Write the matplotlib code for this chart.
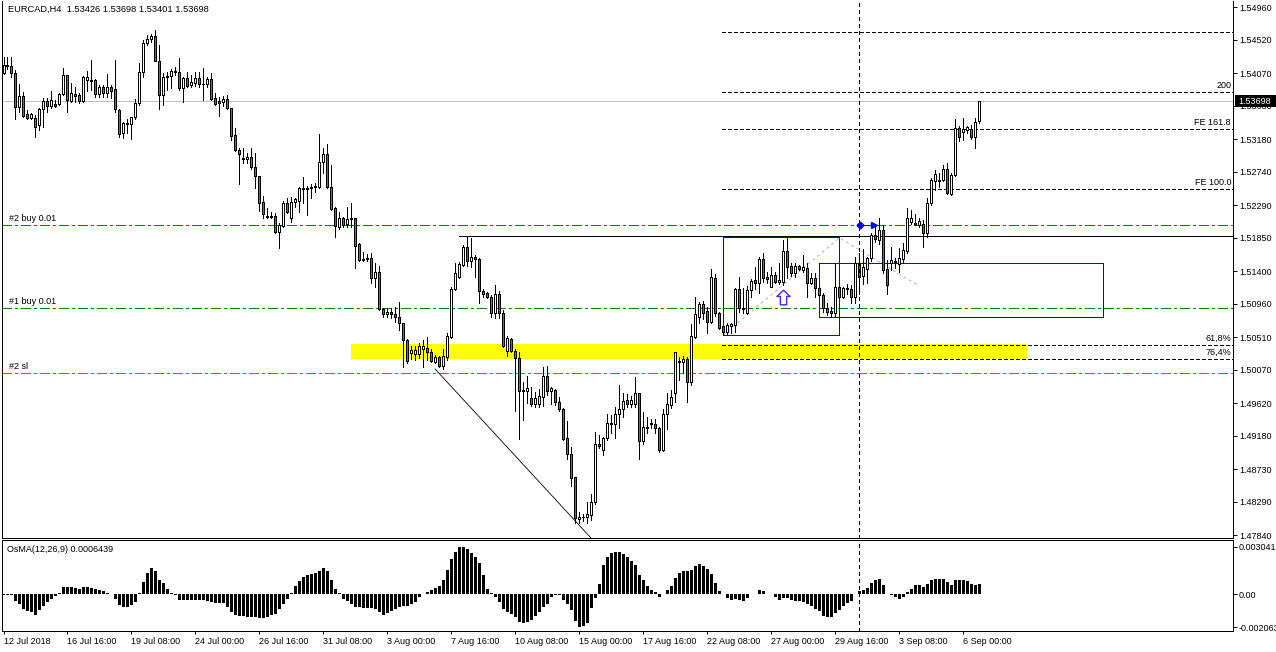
import matplotlib
matplotlib.use("Agg")
import matplotlib.pyplot as plt
import numpy as np
from matplotlib.path import Path
from matplotlib.patches import Rectangle

plt.rcParams['font.family'] = ['Liberation Sans', 'DejaVu Sans']
plt.rcParams['lines.scale_dashes'] = False
plt.rcParams['lines.antialiased'] = False
plt.rcParams['patch.antialiased'] = False

# ---------------- data (EURCAD H4, bars from 12 Jul 2018 00:00) ----------------
opens = [
 1.5407,1.5418,1.5417,1.5407,1.5362,1.5376,1.5352,1.5346,1.5346,1.5337,
 1.5359,1.5370,1.5363,1.5366,1.5366,1.5379,1.5405,1.5370,1.5379,1.5378,
 1.5370,1.5398,1.5398,1.5398,1.5379,1.5389,1.5380,1.5389,1.5386,1.5358,
 1.5326,1.5340,1.5339,1.5348,1.5367,1.5409,1.5448,1.5453,1.5457,1.5424,
 1.5378,1.5402,1.5403,1.5410,1.5409,1.5387,1.5401,1.5391,1.5394,1.5401,
 1.5393,1.5392,1.5399,1.5374,1.5370,1.5368,1.5372,1.5360,1.5324,1.5303,
 1.5293,1.5291,1.5294,1.5281,1.5268,1.5233,1.5214,1.5213,1.5214,1.5193,
 1.5201,1.5232,1.5212,1.5233,1.5235,1.5252,1.5251,1.5252,1.5254,1.5254,
 1.5287,1.5298,1.5254,1.5225,1.5200,1.5212,1.5204,1.5210,1.5212,1.5177,
 1.5156,1.5156,1.5158,1.5131,1.5139,1.5089,1.5082,1.5085,1.5082,1.5078,
 1.5070,1.5047,1.5029,1.5028,1.5028,1.5035,1.5036,1.5031,1.5017,1.5024,
 1.5012,1.5024,1.5051,1.5116,1.5132,1.5148,1.5173,1.5154,1.5159,1.5156,
 1.5113,1.5110,1.5105,1.5083,1.5109,1.5083,1.5032,1.5048,1.5032,1.5023,
 1.4980,1.4978,1.4969,1.4961,1.4961,1.4970,1.4998,1.4978,1.4980,1.4963,
 1.4954,1.4915,1.4894,1.4862,1.4805,1.4809,1.4808,1.4811,1.4828,1.4907,
 1.4899,1.4915,1.4935,1.4934,1.4947,1.4954,1.4966,1.4961,1.4961,1.4975,
 1.4911,1.4930,1.4934,1.4934,1.4928,1.4899,1.4947,1.4959,1.4975,1.5019,
 1.5017,1.5021,1.4990,1.5051,1.5078,1.5096,1.5086,1.5071,1.5131,1.5083,
 1.5066,1.5058,1.5066,1.5067,1.5116,1.5090,1.5083,1.5115,1.5128,1.5124,
 1.5156,1.5132,1.5119,1.5135,1.5125,1.5125,1.5167,1.5147,1.5137,1.5147,
 1.5142,1.5144,1.5124,1.5131,1.5117,1.5108,1.5090,1.5086,1.5083,1.5119,
 1.5105,1.5117,1.5116,1.5105,1.5151,1.5133,1.5143,1.5158,1.5189,1.5182,
 1.5196,1.5143,1.5151,1.5154,1.5150,1.5156,1.5167,1.5206,1.5205,1.5202,
 1.5204,1.5191,1.5232,1.5262,1.5263,1.5263,1.5278,1.5244,1.5270,1.5333,
 1.5328,1.5331,1.5332,1.5321,1.53426]
highs = [
 1.5429,1.5429,1.5429,1.5412,1.5393,1.5382,1.5357,1.5353,1.5351,1.5360,
 1.5374,1.5374,1.5383,1.5371,1.5380,1.5414,1.5405,1.5394,1.5389,1.5380,
 1.5403,1.5410,1.5425,1.5399,1.5391,1.5391,1.5406,1.5391,1.5425,1.5359,
 1.5341,1.5345,1.5348,1.5372,1.5421,1.5452,1.5459,1.5460,1.5466,1.5445,
 1.5407,1.5409,1.5413,1.5416,1.5428,1.5402,1.5409,1.5405,1.5409,1.5409,
 1.5414,1.5402,1.5407,1.5380,1.5375,1.5376,1.5378,1.5360,1.5333,1.5306,
 1.5306,1.5299,1.5306,1.5299,1.5268,1.5241,1.5225,1.5220,1.5218,1.5205,
 1.5235,1.5239,1.5240,1.5239,1.5254,1.5267,1.5255,1.5258,1.5259,1.5325,
 1.5306,1.5312,1.5283,1.5227,1.5220,1.5213,1.5227,1.5232,1.5212,1.5178,
 1.5166,1.5163,1.5164,1.5151,1.5147,1.5090,1.5090,1.5090,1.5092,1.5098,
 1.5070,1.5048,1.5039,1.5039,1.5043,1.5047,1.5051,1.5035,1.5027,1.5025,
 1.5035,1.5056,1.5119,1.5151,1.5152,1.5175,1.5187,1.5185,1.5162,1.5158,
 1.5116,1.5112,1.5108,1.5121,1.5113,1.5088,1.5052,1.5050,1.5035,1.5031,
 1.4990,1.4998,1.4984,1.4977,1.4981,1.5011,1.5012,1.4984,1.4981,1.4970,
 1.4955,1.4938,1.4903,1.4862,1.4815,1.4813,1.4828,1.4840,1.4923,1.4919,
 1.4916,1.4947,1.4946,1.4957,1.4986,1.4975,1.4974,1.4971,1.4997,1.4975,
 1.4950,1.4943,1.4940,1.4940,1.4930,1.4954,1.4975,1.4980,1.5031,1.5024,
 1.5025,1.5024,1.5069,1.5105,1.5098,1.5100,1.5092,1.5143,1.5136,1.5085,
 1.5067,1.5070,1.5070,1.5117,1.5132,1.5117,1.5120,1.5129,1.5146,1.5159,
 1.5164,1.5139,1.5146,1.5139,1.5151,1.5182,1.5186,1.5151,1.5151,1.5148,
 1.5162,1.5151,1.5137,1.5137,1.5120,1.5110,1.5097,1.5092,1.5151,1.5119,
 1.5119,1.5123,1.5121,1.5159,1.5164,1.5170,1.5159,1.5191,1.5202,1.5212,
 1.5202,1.5155,1.5173,1.5158,1.5171,1.5178,1.5225,1.5223,1.5217,1.5212,
 1.5209,1.5239,1.5266,1.5277,1.5272,1.5283,1.5286,1.5272,1.5345,1.5336,
 1.5347,1.5336,1.5337,1.5347,1.53698]
lows = [
 1.5406,1.5413,1.5402,1.5345,1.5355,1.5348,1.5345,1.5345,1.5321,1.5331,
 1.5335,1.5355,1.5360,1.5362,1.5364,1.5378,1.5355,1.5368,1.5368,1.5367,
 1.5368,1.5383,1.5384,1.5375,1.5375,1.5375,1.5375,1.5374,1.5355,1.5321,
 1.5320,1.5326,1.5318,1.5345,1.5364,1.5402,1.5445,1.5449,1.5423,1.5359,
 1.5364,1.5384,1.5387,1.5405,1.5384,1.5368,1.5389,1.5389,1.5390,1.5389,
 1.5371,1.5389,1.5371,1.5364,1.5349,1.5363,1.5359,1.5317,1.5302,1.5258,
 1.5286,1.5286,1.5278,1.5252,1.5221,1.5212,1.5212,1.5212,1.5191,1.5171,
 1.5200,1.5218,1.5206,1.5227,1.5220,1.5232,1.5216,1.5239,1.5247,1.5252,
 1.5272,1.5252,1.5222,1.5186,1.5197,1.5200,1.5200,1.5200,1.5144,1.5154,
 1.5154,1.5154,1.5124,1.5119,1.5088,1.5078,1.5078,1.5077,1.5071,1.5061,
 1.5011,1.5016,1.5021,1.5020,1.5023,1.5011,1.5020,1.5017,1.5016,1.5011,
 1.5008,1.5020,1.5050,1.5115,1.5131,1.5147,1.5147,1.5146,1.5132,1.5097,
 1.5105,1.5104,1.5078,1.5077,1.5077,1.5038,1.5025,1.5031,1.4951,1.4913,
 1.4939,1.4962,1.4958,1.4957,1.4957,1.4958,1.4973,1.4961,1.4959,1.4951,
 1.4912,1.4886,1.4850,1.4800,1.4800,1.4803,1.4800,1.4804,1.4826,1.4901,
 1.4892,1.4912,1.4921,1.4915,1.4928,1.4943,1.4957,1.4957,1.4957,1.4886,
 1.4907,1.4921,1.4928,1.4921,1.4896,1.4897,1.4927,1.4955,1.4963,1.4993,
 1.5002,1.4963,1.4986,1.5050,1.5070,1.5075,1.5056,1.5070,1.5079,1.5062,
 1.5054,1.5055,1.5056,1.5058,1.5085,1.5083,1.5082,1.5105,1.5116,1.5110,
 1.5125,1.5124,1.5118,1.5124,1.5123,1.5121,1.5131,1.5133,1.5132,1.5142,
 1.5139,1.5105,1.5123,1.5105,1.5105,1.5085,1.5081,1.5078,1.5078,1.5104,
 1.5104,1.5109,1.5097,1.5097,1.5109,1.5123,1.5124,1.5154,1.5179,1.5177,
 1.5137,1.5109,1.5142,1.5144,1.5139,1.5151,1.5164,1.5204,1.5202,1.5200,
 1.5173,1.5186,1.5229,1.5250,1.5254,1.5262,1.5244,1.5243,1.5268,1.5316,
 1.5317,1.5326,1.5318,1.5306,1.53401]
closes = [
 1.5418,1.5417,1.5407,1.5362,1.5376,1.5349,1.5346,1.5352,1.5335,1.5359,
 1.5370,1.5363,1.5371,1.5363,1.5379,1.5405,1.5371,1.5380,1.5376,1.5370,
 1.5402,1.5402,1.5397,1.5379,1.5389,1.5380,1.5389,1.5383,1.5359,1.5325,
 1.5340,1.5339,1.5348,1.5367,1.5409,1.5448,1.5453,1.5457,1.5424,1.5378,
 1.5402,1.5403,1.5410,1.5409,1.5387,1.5401,1.5390,1.5395,1.5401,1.5393,
 1.5392,1.5399,1.5372,1.5366,1.5367,1.5372,1.5360,1.5322,1.5303,1.5298,
 1.5291,1.5294,1.5281,1.5268,1.5232,1.5217,1.5213,1.5214,1.5193,1.5202,
 1.5232,1.5220,1.5233,1.5237,1.5252,1.5251,1.5252,1.5254,1.5255,1.5287,
 1.5298,1.5254,1.5224,1.5201,1.5212,1.5202,1.5210,1.5212,1.5174,1.5155,
 1.5155,1.5158,1.5131,1.5139,1.5089,1.5082,1.5085,1.5082,1.5078,1.5070,
 1.5047,1.5019,1.5034,1.5034,1.5039,1.5039,1.5031,1.5019,1.5024,1.5012,
 1.5025,1.5052,1.5116,1.5137,1.5150,1.5173,1.5154,1.5159,1.5156,1.5113,
 1.5109,1.5105,1.5083,1.5109,1.5083,1.5039,1.5050,1.5032,1.5023,1.4978,
 1.4978,1.4982,1.4961,1.4969,1.4971,1.4998,1.4978,1.4982,1.4963,1.4954,
 1.4913,1.4894,1.4861,1.4807,1.4809,1.4808,1.4812,1.4828,1.4907,1.4904,
 1.4915,1.4935,1.4934,1.4947,1.4954,1.4965,1.4961,1.4966,1.4975,1.4911,
 1.4930,1.4928,1.4935,1.4928,1.4899,1.4947,1.4961,1.4970,1.5031,1.5017,
 1.5021,1.4990,1.5052,1.5082,1.5096,1.5083,1.5071,1.5132,1.5083,1.5063,
 1.5058,1.5067,1.5069,1.5116,1.5090,1.5089,1.5115,1.5127,1.5124,1.5156,
 1.5131,1.5129,1.5135,1.5125,1.5128,1.5167,1.5146,1.5137,1.5147,1.5143,
 1.5146,1.5124,1.5131,1.5117,1.5108,1.5090,1.5085,1.5083,1.5119,1.5105,
 1.5117,1.5116,1.5105,1.5151,1.5132,1.5146,1.5158,1.5189,1.5183,1.5196,
 1.5142,1.5121,1.5155,1.5152,1.5158,1.5169,1.5212,1.5212,1.5204,1.5208,
 1.5191,1.5232,1.5263,1.5271,1.5262,1.5278,1.5245,1.5270,1.5333,1.5321,
 1.5332,1.5335,1.5321,1.5341,1.53698]
osma = [
 -0.00003,-0.00003,-0.00005,-0.00039,-0.00060,-0.00091,-0.00103,-0.00111,-0.00128,-0.00101,
 -0.00070,-0.00045,-0.00029,-0.00008,0.00012,0.00049,0.00045,0.00045,0.00043,0.00037,
 0.00049,0.00049,0.00043,0.00033,0.00029,0.00021,0.00012,0.00000,-0.00030,-0.00066,
 -0.00080,-0.00080,-0.00066,-0.00045,0.00012,0.00078,0.00136,0.00171,0.00152,0.00095,
 0.00070,0.00037,0.00012,-0.00004,-0.00033,-0.00035,-0.00035,-0.00035,-0.00035,-0.00033,
 -0.00035,-0.00039,-0.00049,-0.00054,-0.00054,-0.00054,-0.00080,-0.00111,-0.00128,-0.00136,
 -0.00138,-0.00142,-0.00142,-0.00144,-0.00148,-0.00148,-0.00142,-0.00132,-0.00122,-0.00091,
 -0.00060,-0.00029,0.00012,0.00054,0.00084,0.00111,0.00126,0.00130,0.00136,0.00146,
 0.00171,0.00146,0.00091,0.00033,0.00008,-0.00029,-0.00039,-0.00060,-0.00080,-0.00082,
 -0.00084,-0.00087,-0.00087,-0.00095,-0.00111,-0.00128,-0.00115,-0.00103,-0.00091,-0.00082,
 -0.00074,-0.00074,-0.00060,-0.00045,-0.00019,0.00000,0.00016,0.00027,0.00041,0.00054,
 0.00089,0.00157,0.00222,0.00270,0.00304,0.00304,0.00290,0.00264,0.00239,0.00198,
 0.00126,0.00033,0.00008,-0.00019,-0.00045,-0.00091,-0.00111,-0.00122,-0.00142,-0.00173,
 -0.00179,-0.00173,-0.00163,-0.00136,-0.00111,-0.00080,-0.00060,-0.00019,-0.00004,-0.00004,
 -0.00033,-0.00060,-0.00101,-0.00165,-0.00206,-0.00200,-0.00178,-0.00087,-0.00020,0.00064,
 0.00187,0.00235,0.00260,0.00268,0.00268,0.00255,0.00235,0.00214,0.00187,0.00126,
 0.00089,0.00052,0.00031,0.00014,-0.00014,0.00006,0.00027,0.00052,0.00103,0.00134,
 0.00150,0.00146,0.00157,0.00181,0.00192,0.00183,0.00161,0.00130,0.00072,0.00021,
 0.00002,-0.00025,-0.00035,-0.00031,-0.00035,-0.00039,-0.00021,0.00000,0.00006,0.00031,
 0.00023,0.00006,0.00000,-0.00014,-0.00035,-0.00025,-0.00021,-0.00035,-0.00039,-0.00043,
 -0.00045,-0.00060,-0.00072,-0.00093,-0.00107,-0.00134,-0.00142,-0.00142,-0.00117,-0.00097,
 -0.00072,-0.00056,-0.00039,0.00003,0.00021,0.00031,0.00043,0.00072,0.00089,0.00099,
 0.00062,0.00006,-0.00004,-0.00014,-0.00031,-0.00014,0.00016,0.00037,0.00058,0.00058,
 0.00047,0.00068,0.00089,0.00099,0.00099,0.00099,0.00078,0.00062,0.00089,0.00093,
 0.00093,0.00084,0.00064,0.00058,0.0006439]

time_labels = ["12 Jul 2018", "16 Jul 16:00", "19 Jul 08:00", "24 Jul 00:00", "26 Jul 16:00",
               "31 Jul 08:00", "3 Aug 00:00", "7 Aug 16:00", "10 Aug 08:00", "15 Aug 00:00",
               "17 Aug 16:00", "22 Aug 08:00", "27 Aug 00:00", "29 Aug 16:00", "3 Sep 08:00",
               "6 Sep 00:00"]
price_ticks = [1.54960, 1.54520, 1.54070, 1.53630, 1.53180, 1.52740, 1.52290, 1.51850,
               1.51400, 1.50960, 1.50510, 1.50070, 1.49620, 1.49180, 1.48730, 1.48290, 1.47840]
osma_ticks = [0.003041, 0.0, -0.002063]
osma_tick_labels = ["0.0030418", "0.00", "-0.002063"]

# chart objects (bar index / price anchors)
fe_levels = [1.52508, 1.53318, 1.53817, 1.54622]
fe_labels = ["FE 100.0", "FE 161.8", "200", ""]
fib_levels = [1.50404, 1.50211]
fib_labels = ["61,8%", "76,4%"]
orders = [("#2 buy 0.01", 1.52019, "green"), ("#1 buy 0.01", 1.50899, "green"), ("#2 sl", 1.50026, "sl")]
ray_price, ray_start = 1.51874, 114
yellow_zone = (86.9, 255.9, 1.50215, 1.50418)
box1 = (179.9, 208.9, 1.50539, 1.51865)
box2 = (203.9, 274.9, 1.50782, 1.51510)
fe_pts_x = [180, 209, 228.6]
fe_pts_y = [1.5054, 1.5185, 1.5121]
trend_x = [107.9, 152.0]
trend_y = [1.5008, 1.4750]
vline_bar = 213.9
arrow_bar, arrow_price = 194.9, 1.51052
trade_x = [214.1, 217.6]
trade_y = 1.5202

# ---------------- figure ----------------
W, H = 1276, 652
fig = plt.figure(figsize=(W / 100, H / 100), dpi=100)
fig.patch.set_facecolor("white")
PX = 0.72  # one pixel in points

ax = fig.add_axes([2 / W, 1 - 538 / H, 1231 / W, 537 / H])
ax2 = fig.add_axes([2 / W, 1 - 631 / H, 1231 / W, 91 / H])

O = np.array(opens); Hh = np.array(highs); L = np.array(lows); C = np.array(closes)
x = np.arange(len(C))
xlim = (-0.375, 307.375)

# candles
ax.vlines(x, L, Hh, color="black", lw=1.0 * PX, zorder=5, antialiased=False)
up = C >= O
bottom = np.minimum(O, C)
height = np.abs(C - O)
ax.bar(x, height, bottom=bottom, width=0.5,
       color=np.where(up, "white", "#6e6e6e"), edgecolor="black", linewidth=1.0 * PX, zorder=6)

# current price line
ax.axhline(C[-1], color="#c0c0c0", lw=1.0 * PX, zorder=2)

# yellow zone
ax.add_patch(Rectangle((yellow_zone[0], yellow_zone[2]), yellow_zone[1] - yellow_zone[0],
                       yellow_zone[3] - yellow_zone[2], facecolor="#ffff00", edgecolor="none", zorder=1))

dot = (0, (2.2, 1.5))
fe_start = 179.6
for lv, lb in zip(fe_levels, fe_labels):
    ax.hlines(lv, fe_start, xlim[1], color="black", lw=1.0 * PX, linestyles=[dot], zorder=3,
              antialiased=False)
    if lb:
        ax.annotate(lb, xy=(306.9, lv), xytext=(0, 1.5), textcoords="offset points",
                    ha="right", va="bottom", fontsize=6.5, color="black", zorder=8)
for lv, lb in zip(fib_levels, fib_labels):
    ax.hlines(lv, fe_start, xlim[1], color="black", lw=1.0 * PX, linestyles=[dot], zorder=3,
              antialiased=False)
    ax.annotate(lb, xy=(306.9, lv), xytext=(0, 1.5), textcoords="offset points",
                ha="right", va="bottom", fontsize=6.5, color="black", zorder=8)

# order lines
dashdot = (0, (6.5, 2.2, 1.5, 2.2))
for lb, lv, kind in orders:
    col = "#008000" if kind == "green" else "#ff4500"
    ax.axhline(lv, color=col, lw=1.0 * PX, linestyle=dashdot, zorder=2)
    ax.annotate(lb, xy=(1.4, lv), xytext=(0, 1.5), textcoords="offset points",
                ha="left", va="bottom", fontsize=6.5, color="black", zorder=8)

# horizontal ray
ax.hlines(ray_price, ray_start, xlim[1], color="black", lw=1.0 * PX, zorder=3, antialiased=False)

# boxes
for b in (box1, box2):
    ax.add_patch(Rectangle((b[0], b[2]), b[1] - b[0], b[3] - b[2], fill=False,
                           edgecolor="#0000ff", lw=1.0 * PX, zorder=4))

# fibo expansion base line (thin, light)
ax.plot(fe_pts_x, fe_pts_y, color="#b0b0b0", lw=0.7, linestyle=(0, (2.2, 2.2)), zorder=3,
        antialiased=True)

# trend line (thin)
ax.plot(trend_x, trend_y, color="black", lw=0.6, zorder=3, antialiased=True)

# vertical dotted line
for a in (ax, ax2):
    a.axvline(vline_bar, color="black", lw=1.0 * PX, linestyle=(0, (2.2, 2.2)), zorder=7)

# arrow marker
arrow = Path([(0, 1), (0.9, 0.14), (0.43, 0.14), (0.43, -1), (-0.43, -1), (-0.43, 0.14), (-0.9, 0.14), (0, 1)],
             [Path.MOVETO] + [Path.LINETO] * 6 + [Path.CLOSEPOLY])
ax.plot([arrow_bar], [arrow_price], marker=arrow, markersize=10.5, markerfacecolor="white",
        markeredgecolor="#3b2bff", markeredgewidth=1.0, zorder=9, antialiased=True)

# trade marker line
ax.plot(trade_x, [trade_y, trade_y], color="#0000ff", lw=1.0 * PX, zorder=9)
ax.plot([trade_x[0]], [trade_y], marker="D", markersize=3.5, color="#0000ff", zorder=9, antialiased=True)
ax.plot([trade_x[1]], [trade_y], marker=">", markersize=4.5, color="#0000ff", zorder=9, antialiased=True)

# main axes formatting
ax.set_xlim(*xlim)
ax.set_ylim(1.47800, 1.55045)
ax.set_xticks([])
ax.yaxis.tick_right()
ax.set_yticks(price_ticks)
ax.set_yticklabels([f"{v:.5f}" for v in price_ticks])
ax.tick_params(axis="y", direction="out", length=3, width=0.7, pad=1.5, labelsize=6.5)
ax.spines["top"].set_visible(False)
for s in ("left", "right", "bottom"):
    ax.spines[s].set_linewidth(1.0 * PX)

# OsMA panel
ax2.bar(x, osma, width=0.72, color="black", linewidth=0, zorder=3)
ax2.set_xlim(*xlim)
ax2.set_ylim(-0.002314, 0.003455)
ax2.yaxis.tick_right()
ax2.set_yticks(osma_ticks)
ax2.set_yticklabels(osma_tick_labels)
ax2.tick_params(axis="y", direction="out", length=3, width=0.7, pad=1.0, labelsize=6.5)
tick_bars = np.arange(0, len(C), 16)
ax2.set_xticks(tick_bars)
ax2.set_xticklabels(time_labels, ha="left")
ax2.tick_params(axis="x", direction="out", length=2.5, width=0.7, pad=1.5, labelsize=6.5)
for s in ax2.spines.values():
    s.set_linewidth(1.0 * PX)

# texts
fig.text(8 / W, 1 - 9 / H, "EURCAD,H4  1.53426 1.53698 1.53401 1.53698", fontsize=6.7,
         va="center", ha="left")
fig.text(7 / W, 1 - 549 / H, "OsMA(12,26,9) 0.0006439", fontsize=6.5, va="center", ha="left")

# current price label
fig.patches.append(Rectangle((1235 / W, 1 - 107 / H), 45 / W, 12 / H, transform=fig.transFigure,
                             facecolor="black", edgecolor="none", zorder=10))
fig.text(1238 / W, 1 - 101 / H, f"{C[-1]:.5f}", color="white", fontsize=6.5, va="center",
         ha="left", zorder=11)

fig.savefig("out.png", dpi=100)
